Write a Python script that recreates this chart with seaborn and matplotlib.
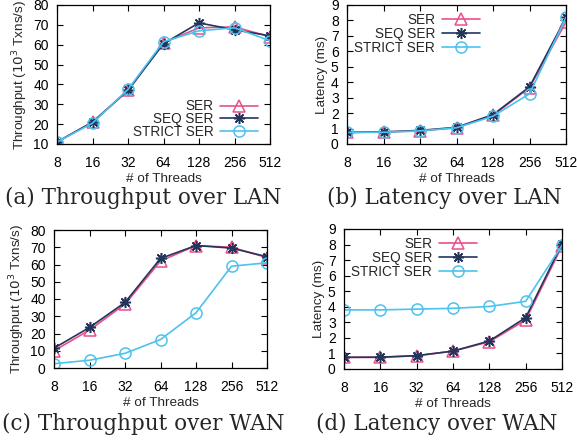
import numpy as np
import pandas as pd
import matplotlib
matplotlib.use("Agg")
import matplotlib.pyplot as plt
import seaborn as sns

threads = [8, 16, 32, 64, 128, 256, 512]
series = ["SER", "SEQ SER", "STRICT SER"]

# throughput over LAN (10^3 Txns/s)
tput_lan_ser = [11, 21, 37, 61, 68.5, 69, 64]
tput_lan_seq = [11, 21, 37, 60.5, 71, 67.5, 64.5]
tput_lan_strict = [11, 20.5, 37.5, 61.5, 67, 68.5, 62]

# latency over LAN (ms)
lat_lan_ser = [0.75, 0.78, 0.85, 1.05, 1.85, 3.65, 7.9]
lat_lan_seq = [0.75, 0.78, 0.88, 1.08, 1.9, 3.7, 8.2]
lat_lan_strict = [0.75, 0.76, 0.85, 1.05, 1.8, 3.25, 8.2]

# throughput over WAN
tput_wan_ser = [10, 22, 37, 62, 71, 70, 64]
tput_wan_seq = [11.5, 23.5, 38, 63.5, 71, 69.5, 64.5]
tput_wan_strict = [2.5, 4.5, 8.5, 16.5, 32, 59, 61]

# latency over WAN
lat_wan_ser = [0.75, 0.75, 0.85, 1.15, 1.75, 3.15, 7.9]
lat_wan_seq = [0.75, 0.76, 0.86, 1.15, 1.8, 3.3, 8.05]
lat_wan_strict = [3.8, 3.8, 3.85, 3.9, 4.02, 4.35, 7.95]

sns.set_style("ticks")
plt.rcParams['font.family'] = ['Liberation Sans', 'DejaVu Sans']

colors = {"SER": "#e8508a", "SEQ SER": "#24355c", "STRICT SER": "#4cc2ee"}
markers = {"SER": "^", "SEQ SER": (8, 2, 0), "STRICT SER": "o"}

def make_df(a, b, c):
    return pd.DataFrame({
        "threads": threads * 3,
        "value": a + b + c,
        "series": [series[0]] * 7 + [series[1]] * 7 + [series[2]] * 7,
    })

W, H = 577, 441
fig = plt.figure(figsize=(W / 100, H / 100), dpi=100)

def px_axes(l, t, r, b):
    return fig.add_axes([l / W, 1 - b / H, (r - l) / W, (b - t) / H])

panels = [
    (px_axes(57, 5, 270, 144), make_df(tput_lan_ser, tput_lan_seq, tput_lan_strict),
     "Throughput ($10^3$ Txns/s)", (10, 80), 10, "lower right", "(a) Throughput over LAN", (143, 204)),
    (px_axes(347, 5, 566, 144), make_df(lat_lan_ser, lat_lan_seq, lat_lan_strict),
     "Latency (ms)", (0, 9), 1, "upper left", "(b) Latency over LAN", (444, 204)),
    (px_axes(54, 230, 267, 368), make_df(tput_wan_ser, tput_wan_seq, tput_wan_strict),
     "Throughput ($10^3$ Txns/s)", (0, 80), 10, None, "(c) Throughput over WAN", (143, 430)),
    (px_axes(344, 229, 562, 369), make_df(lat_wan_ser, lat_wan_seq, lat_wan_strict),
     "Latency (ms)", (0, 9), 1, "upper left", "(d) Latency over WAN", (437, 430)),
]

for ax, df, ylabel, ylim, ystep, legloc, caption, cpos in panels:
    for s in series:
        d = df[df["series"] == s]
        sns.lineplot(data=d, x="threads", y="value", ax=ax, color=colors[s],
                     marker=markers[s], markersize=8, markerfacecolor="none",
                     markeredgecolor=colors[s], markeredgewidth=1.1,
                     linewidth=1.2, label=s, legend=False)
    ax.set_xscale("log", base=2)
    ax.set_xlim(8, 512)
    ax.set_xticks(threads)
    ax.set_xticklabels([str(t) for t in threads])
    ax.minorticks_off()
    ax.set_ylim(*ylim)
    ax.set_yticks(np.arange(ylim[0], ylim[1] + 0.01, ystep))
    ax.tick_params(direction="in", length=4, width=0.8, top=True, right=True,
                   labelsize=10, colors="black")
    ax.tick_params(axis="x", pad=8.5)
    ax.tick_params(axis="y", pad=6)
    for sp in ax.spines.values():
        sp.set_visible(True)
        sp.set_linewidth(0.9)
        sp.set_color("black")
    ax.set_ylabel(ylabel, fontsize=9.7, labelpad=2)
    ax.set_xlabel("# of Threads", fontsize=9.7, labelpad=2.5)
    if legloc is not None:
        if legloc == "lower right":
            ax.legend(loc="lower right", bbox_to_anchor=(0.99, -0.03), markerfirst=False,
                      frameon=False, fontsize=9.8, handlelength=2.8, labelspacing=-0.1,
                      handletextpad=0.5, borderpad=0.2)
        else:
            ax.legend(loc="upper left", bbox_to_anchor=(-0.01, 1.01), markerfirst=False,
                      frameon=False, fontsize=9.8, handlelength=2.8, labelspacing=0.0,
                      handletextpad=0.5, borderpad=0.2)
    fig.text(cpos[0] / W, 1 - cpos[1] / H, caption,
             family=["DejaVu Serif"], fontsize=15.5,
             ha="center", va="baseline")

fig.savefig("out.png", dpi=100)
